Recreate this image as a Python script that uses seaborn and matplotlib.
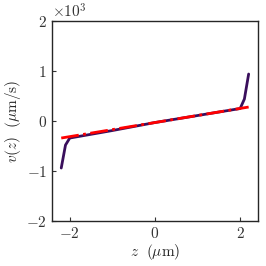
import numpy as np
import pandas as pd
import matplotlib
matplotlib.use("Agg")
import matplotlib.pyplot as plt
import seaborn as sns

sns.set_style("ticks")
plt.rcParams['font.family'] = ['serif']
plt.rcParams['mathtext.fontset'] = 'cm'
plt.rcParams['font.serif'] = ['DejaVu Serif']

# simulated profile (z in um, v in um/s)
z_sim = [-2.2, -2.1, -2.0, -1.0, 0.0, 1.0, 2.0, 2.1, 2.2]
v_sim = [-940, -480, -340, -190, -30, 110, 250, 440, 940]

# linear fit
z_fit = [-2.2, 2.2]
v_fit = [-340, 280]

df_sim = pd.DataFrame({"z": z_sim, "v": np.array(v_sim) / 1e3})
df_fit = pd.DataFrame({"z": z_fit, "v": np.array(v_fit) / 1e3})

fig = plt.figure(figsize=(2.66, 2.66), dpi=100)
ax = fig.add_axes([0.195, 0.169, 0.775, 0.752])

sns.lineplot(data=df_sim, x="z", y="v", ax=ax, color="#3a0f5c", lw=2, sort=False)
sns.lineplot(data=df_fit, x="z", y="v", ax=ax, color="#ff0000", lw=2, ls="-.")

ax.set_xlim(-2.42, 2.42)
ax.set_ylim(-2, 2)
ax.set_xticks([-2, 0, 2])
ax.set_yticks([-2, -1, 0, 1, 2])
ax.set_xticklabels([r"$-2$", r"$0$", r"$2$"])
ax.set_yticklabels([r"$-2$", r"$-1$", r"$0$", r"$1$", r"$2$"])
ax.tick_params(direction="in", length=3, labelsize=11, width=0.8, colors="#333333")
for s in ax.spines.values():
    s.set_linewidth(1.0)
ax.set_xlabel(r"$z\ \ (\mu\mathrm{m})$", fontsize=11, labelpad=1)
ax.set_ylabel(r"$v(z)\ \ (\mu\mathrm{m/s})$", fontsize=11, labelpad=2)
ax.text(0.0, 1.0, r"$\times10^3$", transform=ax.transAxes, fontsize=11,
        va="bottom", ha="left", color="#333333")

fig.savefig("out.png", dpi=100)
